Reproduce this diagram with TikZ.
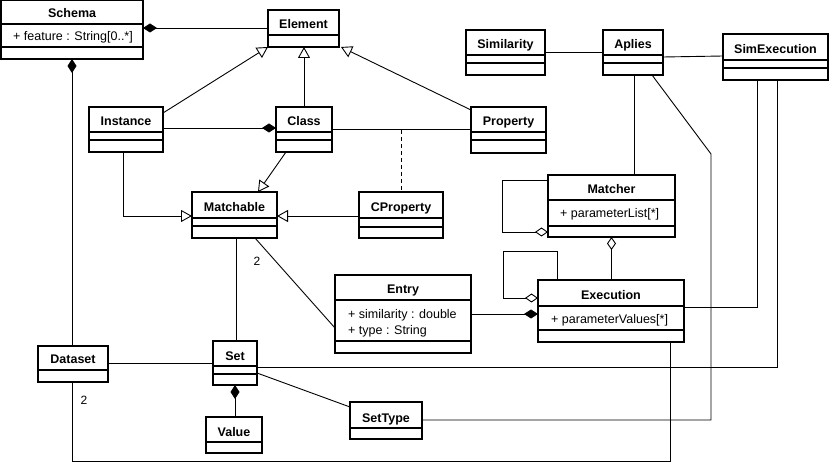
\documentclass[tikz,border=0pt]{standalone}
\usepackage{fontspec}
\setmainfont{Liberation Sans}
\usetikzlibrary{arrows.meta}
\tikzset{
  classbox/.style={draw=black, line width=1.6pt, fill=white, inner sep=0pt, outer sep=0pt, rectangle},
  heavybox/.style={line width=2.4pt},
  sepline/.style={draw=black, line width=1.1pt},
  titletext/.style={font=\fontsize{12.5}{14}\selectfont\bfseries, inner sep=0pt, anchor=base},
  attrtext/.style={font=\fontsize{12.5}{14}\selectfont, inner sep=0pt, anchor=base west},
  multtext/.style={font=\fontsize{12}{14}\selectfont, inner sep=0pt, anchor=base},
  conn/.style={draw=black, line width=0.9pt},
  genarrow/.style={-{Triangle[open,length=11pt,width=12pt]}},
  compstart/.style={{Diamond[length=14pt,width=9pt]}-},
  compend/.style={-{Diamond[length=14pt,width=9pt]}},
  aggend/.style={-{Diamond[open,fill=white,length=13pt,width=9pt]}},
  dashline/.style={dash pattern=on 4pt off 3pt},
}
\newcommand\umlclass[8]{%
  \node[classbox,#2,anchor=north west,minimum width={#5-#3},minimum height={#6-#4}] (#1) at (#3,#4) {};
  \draw[sepline] (#3,#7) -- (#5,#7);
  \node[titletext] (#1-title) at ({(#3+#5)/2},{#7-6}) {#8};
}
\newcommand\umlsep[2]{\draw[sepline] (#1.west |- 0,#2) -- (#1.east |- 0,#2);}
\newcommand\umlattr[4]{\node[attrtext] (#1) at (#2,#3) {#4};}
\begin{document}
\begin{tikzpicture}[x=1pt,y=-1pt]
\useasboundingbox[fill=white] (0,0) rectangle (833,462);

% classes
\umlclass{Schema}{heavybox}{1.2}{0}{143}{59}{24}{Schema}
\umlsep{Schema}{47}
\umlattr{Schema-a1}{13}{41}{+ feature : String[0..*]}

\umlclass{Element}{}{268}{10}{339}{47}{35}{Element}
\umlclass{Similarity}{}{466}{30}{545}{75}{55}{Similarity}
\umlsep{Similarity}{63}
\umlclass{Aplies}{}{603}{30}{663}{75}{55}{Aplies}
\umlsep{Aplies}{63}
\umlclass{SimExecution}{heavybox}{723}{34}{828}{80}{60}{SimExecution}
\umlsep{SimExecution}{68}

\umlclass{Instance}{}{89}{107}{163}{152}{132}{Instance}
\umlsep{Instance}{140}
\umlclass{Class}{}{276}{107}{332}{152}{132}{Class}
\umlsep{Class}{140}
\umlclass{Property}{}{471}{107}{546}{153}{132}{Property}
\umlsep{Property}{140}

\umlclass{Matchable}{}{192}{192}{277}{238}{218}{Matchable}
\umlsep{Matchable}{226}
\umlclass{CProperty}{}{359}{192}{443}{238}{218}{CProperty}
\umlsep{CProperty}{227}

\umlclass{Matcher}{heavybox}{548}{175}{675}{237}{200}{Matcher}
\umlsep{Matcher}{226}
\umlattr{Matcher-a1}{560}{218}{+ parameterList[*]}

\umlclass{Execution}{heavybox}{538}{280}{684}{342}{306}{Execution}
\umlsep{Execution}{330}
\umlattr{Execution-a1}{551}{324}{+ parameterValues[*]}

\umlclass{Entry}{heavybox}{335}{275}{471}{353}{300}{Entry}
\umlsep{Entry}{341}
\umlattr{Entry-a1}{348}{319}{+ similarity : double}
\umlattr{Entry-a2}{348}{335}{+ type : String}

\umlclass{Dataset}{}{38}{346}{108}{382}{370}{Dataset}
\umlclass{Set}{}{213}{341}{257}{385}{366}{Set}
\umlsep{Set}{374}
\umlclass{Value}{}{206}{417}{262}{453}{442}{Value}
\umlclass{SetType}{}{350}{402}{422}{439}{428}{SetType}

% connectors
\draw[conn,compstart] (Schema.east |- 0,28) -- (Element.west |- 0,28);
\draw[conn,compstart] (Schema.south -| 72,0) -- (Dataset.north -| 72,0);
\draw[conn,genarrow] (Instance.east |- 0,113) -- (Element.south west);
\draw[conn,genarrow] (Class.north) -- (Class.north |- Element.south);
\draw[conn,genarrow] (Property.west |- 0,110) -- ([xshift=2pt]Element.south east);
\draw[conn,compend] (Instance.east |- 0,128) -- (Class.west |- 0,128);
\draw[conn] (Class.east |- 0,129) -- (Property.west |- 0,129);
\draw[conn,dashline] (CProperty.north |- 0,130) -- (CProperty.north);
\draw[conn,genarrow] (Class.south -| 286,0) -- (Matchable.north -| 258,0);
\draw[conn,genarrow] (Instance.south -| 123,0) |- (Matchable.west |- 0,216);
\draw[conn,genarrow] (CProperty.west |- 0,216) -- (Matchable.east |- 0,216);
\draw[conn] (Matchable.south -| 236,0) -- (Set.north -| 236,0);
\draw[conn] (Matchable.south -| 255,0) -- (Entry.west |- 0,328);
\node[multtext] (mult1) at (257,266) {2};
\draw[conn,compend] (Entry.east |- 0,314) -- (Execution.west |- 0,314);
\draw[conn,aggend] (Matcher.west |- 0,180) -- (502,180) -- (502,232) -- (Matcher.west |- 0,232);
\draw[conn,aggend] (Execution.north -| 557,0) -- (557,251) -- (503,251) -- (503,298) -- (Execution.west |- 0,298);
\draw[conn,aggend] (Execution.north -| Matcher.south) -- (Matcher.south);
\draw[conn] (Aplies.south -| 634,0) -- (Matcher.north -| 634,0);
\draw[conn] (Aplies.south -| 652,0) -- (711,154) -- (711,420) -- (SetType.east |- 0,420);
\draw[conn] (Similarity.east |- 0,52) -- (Aplies.west |- 0,52);
\draw[conn] (Aplies.east |- 0,57) -- (SimExecution.west |- 0,56);
\draw[conn] (Execution.east |- 0,307) -| (SimExecution.south -| 757,0);
\draw[conn] (SimExecution.south -| 777,0) |- (Set.east |- 0,367);
\draw[conn] (Set.east |- 0,373) -- (SetType.west |- 0,407);
\draw[conn,compstart] (Set.south -| 235,0) -- (Value.north -| 235,0);
\draw[conn] (Dataset.east |- 0,363) -- (Set.west |- 0,363);
\draw[conn] (Dataset.south -| 72,0) -- (72,461) -| (Execution.south -| 670,0);
\node[multtext] (mult2) at (84,404) {2};
\end{tikzpicture}
\end{document}
